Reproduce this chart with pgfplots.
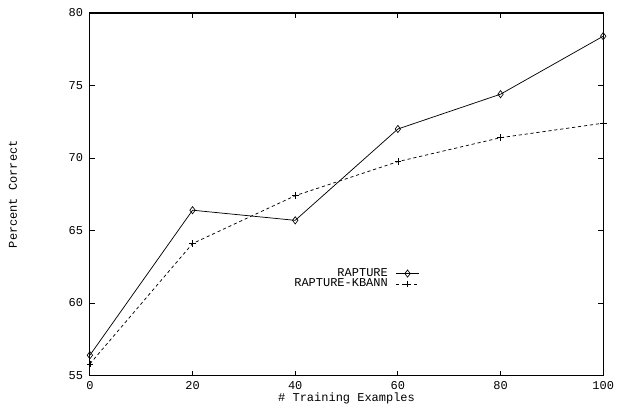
\documentclass[border=0pt]{standalone}
\usepackage{fontspec}
\setmainfont{Liberation Mono}
\usepackage{pgfplots}
\pgfplotsset{compat=1.18}

\begin{document}
\fontsize{9}{10}\selectfont
\begin{tikzpicture}
\begin{axis}[
    name=ax,
    scale only axis,
    width=385.5pt, height=272.25pt,
    xmin=0, xmax=100, ymin=55, ymax=80,
    xtick={0,20,...,100},
    ytick={55,60,...,80},
    tick align=inside,
    major tick length=3.75pt,
    axis line style={line width=0.8pt},
    tick style={line width=0.6pt, black},
    /pgf/number format/assume math mode=true,
    ticklabel style={font=\fontsize{9}{10}\selectfont},
    xticklabel style={yshift=-1pt},
    yticklabel style={xshift=-2pt},
    xlabel={\# Training Examples},
    ylabel={Percent Correct},
    xlabel style={at={(rel axis cs:0.5,0)}, anchor=center, yshift=-17.5pt},
    ylabel style={at={(rel axis cs:0,0.5)}, anchor=center, yshift=57.75pt},
    label style={font=\fontsize{9}{10}\selectfont},
    legend style={at={(0.65,0.31)}, anchor=north east, draw=none, fill=none,
        font=\fontsize{9}{10}\selectfont, row sep=-3.5pt,
        /tikz/every odd column/.append style={column sep=4pt}},
    legend cell align=right,
    legend plot pos=right,
]
\addplot[black, line width=0.55pt, mark=diamond, mark size=2.7pt,
    mark options={solid, line width=0.5pt}]
    coordinates {(0,56.4) (20,66.4) (40,65.7) (60,72.0) (80,74.4) (100,78.4)};
\addlegendentry{RAPTURE}
\addplot[black, line width=0.55pt, dash pattern=on 2.4pt off 2.1pt, mark=+, mark size=2.5pt,
    mark options={solid, line width=0.5pt}]
    coordinates {(0,55.8) (20,64.1) (40,67.4) (60,69.75) (80,71.4) (100,72.4)};
\addlegendentry{RAPTURE-KBANN}
\end{axis}
\path[use as bounding box] ([xshift=-67.5pt,yshift=-22.5pt]ax.south west)
    rectangle ([xshift=10.5pt,yshift=9.75pt]ax.north east);
\end{tikzpicture}
\end{document}
